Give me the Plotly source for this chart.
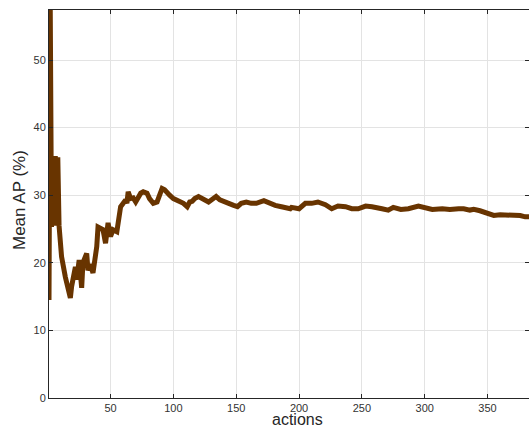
import plotly.graph_objects as go

actions = [1, 2, 3, 4, 5, 6, 7, 8, 9, 10, 11, 14, 16, 18, 19, 22, 23, 25, 27, 28,
           31, 32, 34, 36, 39, 40, 44, 46, 48, 50, 52, 55, 58, 62, 63, 64, 66, 68,
           70, 74, 76, 79, 81, 84, 87, 89, 91, 93, 95, 97, 100, 103, 105, 108, 111,
           113, 115, 117, 120, 123, 125, 128, 131, 134, 137, 140, 144, 148, 151,
           154, 158, 162, 166, 172, 176, 181, 186, 189, 193, 194, 200, 205, 210,
           215, 221, 226, 231, 237, 242, 247, 253, 258, 263, 266, 271, 275, 281,
           287, 295, 300, 306, 314, 320, 327, 331, 336, 339, 344, 350, 355, 360,
           365, 371, 376, 380, 383]
mean_ap = [14.5, 57.4, 25.3, 35.8, 25.5, 35.8, 25.5, 35.6, 25.5, 23.5, 20.9, 17.9,
           16.5, 14.8, 16.5, 19.4, 17.5, 20.4, 16.3, 20.0, 21.4, 18.9, 19.8, 18.5,
           22.4, 25.3, 24.9, 22.9, 25.9, 23.9, 24.9, 24.6, 28.3, 29.3, 28.8, 30.5,
           29.5, 29.6, 29.0, 30.3, 30.5, 30.3, 29.5, 28.8, 29.0, 30.3, 31.0, 30.8,
           30.3, 30.0, 29.5, 29.3, 29.0, 28.8, 28.3, 29.0, 29.1, 29.5, 29.8, 29.5,
           29.3, 29.0, 29.4, 29.8, 29.3, 29.0, 28.8, 28.5, 28.3, 28.8, 29.0, 28.8,
           28.8, 29.2, 28.8, 28.5, 28.3, 28.2, 28.0, 28.2, 28.0, 28.8, 28.8, 29.0,
           28.6, 28.0, 28.4, 28.3, 28.0, 28.0, 28.4, 28.3, 28.2, 28.0, 27.8, 28.2,
           27.9, 28.0, 28.4, 28.2, 27.9, 28.0, 27.9, 28.0, 28.0, 27.8, 27.9, 27.7,
           27.3, 27.0, 27.1, 27.1, 27.1, 27.0, 26.8, 26.8]

x_ticks = [50, 100, 150, 200, 250, 300, 350]
y_ticks = [0, 10, 20, 30, 40, 50]

fig = go.Figure()
fig.add_trace(go.Scatter(x=actions, y=mean_ap, mode="lines",
                         line=dict(color="rgb(104,52,0)", width=5),
                         showlegend=False, hoverinfo="skip"))

font_family = "Liberation Sans, Arial, sans-serif"
axis_common = dict(showgrid=True, gridcolor="#e3e3e3", gridwidth=1,
                   showline=True, linecolor="#262626", linewidth=1,
                   mirror="ticks", ticks="inside", ticklen=4, tickcolor="#262626",
                   zeroline=False,
                   tickfont=dict(family=font_family, size=11, color="#333333"))

fig.update_layout(
    width=529, height=428,
    margin=dict(l=49, r=0, t=10, b=30, autoexpand=False),
    paper_bgcolor="white", plot_bgcolor="white",
    xaxis=dict(range=[1, 383], tickvals=x_ticks, **axis_common),
    yaxis=dict(range=[0, 57.4], tickvals=y_ticks, **axis_common),
    annotations=[
        dict(text="actions", xref="paper", yref="paper",
             x=(297 - 49) / 480, y=-0.0567, xanchor="center", yanchor="middle",
             showarrow=False, font=dict(family=font_family, size=16, color="#262626")),
        dict(text="Mean AP (%)", xref="paper", yref="paper",
             x=-(49 - 19) / 480, y=(398 - 200) / 388, textangle=-90,
             xanchor="center", yanchor="middle",
             showarrow=False, font=dict(family=font_family, size=17, color="#262626")),
    ],
)

fig.write_html(
    "out.html",
    config={"displayModeBar": False},
    post_script="document.body.style.margin='0';document.body.style.overflow='hidden';",
)
